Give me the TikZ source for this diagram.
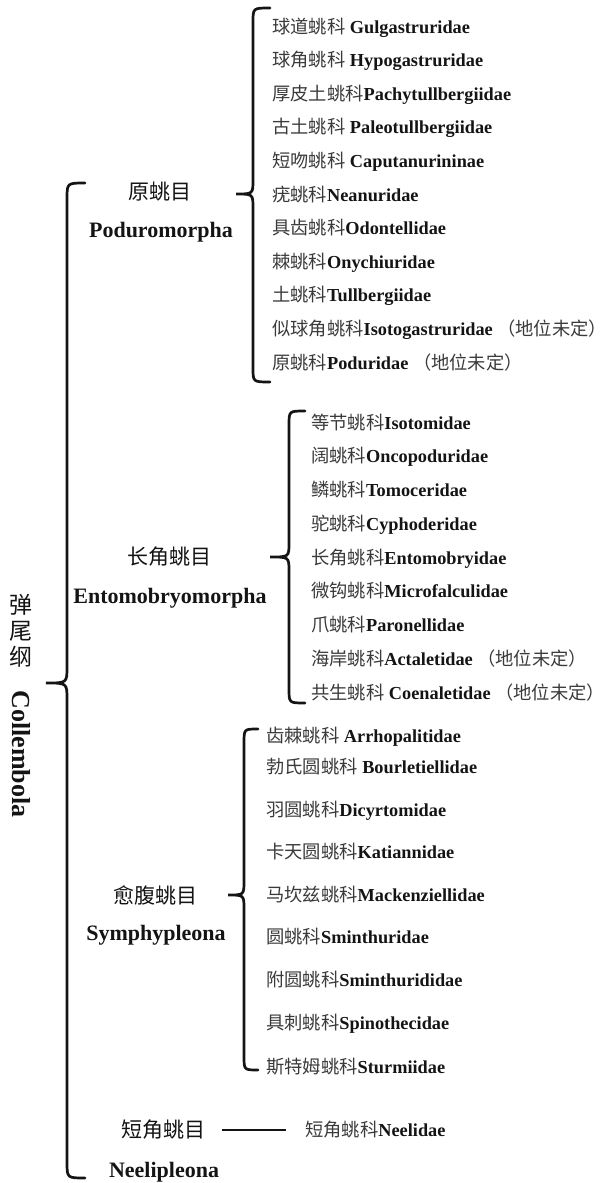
\documentclass[tikz,border=0pt]{standalone}
\usepackage{fontspec}
\setmainfont{Liberation Serif}
\newfontfamily\cjk{Noto Sans CJK SC}
\definecolor{cjkgray}{HTML}{3A3A3A}
\definecolor{ink}{HTML}{141414}
\newcommand\famitem[2]{{\cjk\color{cjkgray}#1}\textbf{#2}}
\newcommand\undet{ {\cjk\color{cjkgray}（地位未定）}}
\tikzset{
  fitem/.style={anchor=west, inner sep=0pt, text=ink, font=\fontsize{18.3}{18.3}\selectfont, text height=15pt, text depth=3pt},
  ordcn/.style={inner sep=0pt, text=ink, font=\cjk\fontsize{21}{21}\selectfont},
  ordla/.style={inner sep=0pt, text=ink, font=\bfseries\fontsize{22}{22}\selectfont},
  bracestyle/.style={draw=ink, line width=2.7pt, line cap=round},
  linkstyle/.style={draw=ink, line width=2.2pt}
}
\newcommand\curlyb[7]{% xr xv xt ytop ytip ybot r
  \draw[bracestyle] (#1,#4) .. controls (#2,#4) .. (#2,#4+#7) -- (#2,#5-#7)
     .. controls (#2,#5) .. (#3,#5) .. controls (#2,#5) .. (#2,#5+#7)
     -- (#2,#6-#7) .. controls (#2,#6) .. (#1,#6);}
\begin{document}
\begin{tikzpicture}[x=1pt,y=-1pt]
\useasboundingbox (0,0) rectangle (607,1183);
% class label
\node[inner sep=0pt, text=ink, font=\cjk\fontsize{23}{26}\selectfont, align=center] (cls) at (21,631) {弹\\尾\\纲};
\node[inner sep=0pt, text=ink, font=\bfseries\fontsize{26}{26}\selectfont, rotate=-90] (clsla) at (21,754) {Collembola};
% big brace
\curlyb{85}{67}{46}{183}{683}{1178}{16}
% ---- group 1
\node[ordcn] (o1) at (160,192) {原䖴目};
\node[ordla] (o1l) at (161,232) {Poduromorpha};
\curlyb{270}{253}{236}{8}{194}{382}{14}
\node[fitem] (a1) at (272,27) {\famitem{球道䖴科}{ Gulgastruridae}};
\node[fitem] (a2) at (272,60.6) {\famitem{球角䖴科}{ Hypogastruridae}};
\node[fitem] (a3) at (272,94.2) {\famitem{厚皮土䖴科}{Pachytullbergiidae}};
\node[fitem] (a4) at (272,127.8) {\famitem{古土䖴科}{ Paleotullbergiidae}};
\node[fitem] (a5) at (272,161.4) {\famitem{短吻䖴科}{ Caputanurininae}};
\node[fitem] (a6) at (272,195) {\famitem{疣䖴科}{Neanuridae}};
\node[fitem] (a7) at (272,228.6) {\famitem{具齿䖴科}{Odontellidae}};
\node[fitem] (a8) at (272,262.2) {\famitem{棘䖴科}{Onychiuridae}};
\node[fitem] (a9) at (272,295.8) {\famitem{土䖴科}{Tullbergiidae}};
\node[fitem] (a10) at (272,329.4) {\famitem{似球角䖴科}{Isotogastruridae}\undet};
\node[fitem] (a11) at (272,363) {\famitem{原䖴科}{Poduridae}\undet};
% ---- group 2
\node[ordcn] (o2) at (169,557) {长角䖴目};
\node[ordla] (o2l) at (170,598) {Entomobryomorpha};
\curlyb{305}{289}{270}{411}{557}{703}{14}
\node[fitem] (b1) at (311,423) {\famitem{等节䖴科}{Isotomidae}};
\node[fitem] (b2) at (311,456.75) {\famitem{阔䖴科}{Oncopoduridae}};
\node[fitem] (b3) at (311,490.5) {\famitem{鳞䖴科}{Tomoceridae}};
\node[fitem] (b4) at (311,524.25) {\famitem{驼䖴科}{Cyphoderidae}};
\node[fitem] (b5) at (311,558) {\famitem{长角䖴科}{Entomobryidae}};
\node[fitem] (b6) at (311,591.75) {\famitem{微钩䖴科}{Microfalculidae}};
\node[fitem] (b7) at (311,625.5) {\famitem{爪䖴科}{Paronellidae}};
\node[fitem] (b8) at (311,659.25) {\famitem{海岸䖴科}{Actaletidae}\undet};
\node[fitem] (b9) at (311,693) {\famitem{共生䖴科}{ Coenaletidae}\undet};
% ---- group 3
\node[ordcn] (o3) at (155,895) {愈腹䖴目};
\node[ordla] (o3l) at (156,935) {Symphypleona};
\curlyb{258}{244}{228}{729}{895}{1070}{14}
\node[fitem] (c1) at (266,736) {\famitem{齿棘䖴科}{ Arrhopalitidae}};
\node[fitem] (c2) at (266,767) {\famitem{勃氏圆䖴科}{ Bourletiellidae}};
\node[fitem] (c3) at (266,810) {\famitem{羽圆䖴科}{Dicyrtomidae}};
\node[fitem] (c4) at (266,852) {\famitem{卡天圆䖴科}{Katiannidae}};
\node[fitem] (c5) at (266,895) {\famitem{马坎兹䖴科}{Mackenziellidae}};
\node[fitem] (c6) at (266,937) {\famitem{圆䖴科}{Sminthuridae}};
\node[fitem] (c7) at (266,980) {\famitem{附圆䖴科}{Sminthurididae}};
\node[fitem] (c8) at (266,1023) {\famitem{具刺䖴科}{Spinothecidae}};
\node[fitem] (c9) at (266,1067) {\famitem{斯特姆䖴科}{Sturmiidae}};
% ---- group 4
\node[ordcn] (o4) at (163,1130) {短角䖴目};
\node[ordla] (o4l) at (164,1172) {Neelipleona};
\node[fitem] (d1) at (305,1130) {\famitem{短角䖴科}{Neelidae}};
\draw[linkstyle, shorten <=17pt, shorten >=19pt] (o4.east) -- (o4.east -| d1.west);
\end{tikzpicture}
\end{document}
